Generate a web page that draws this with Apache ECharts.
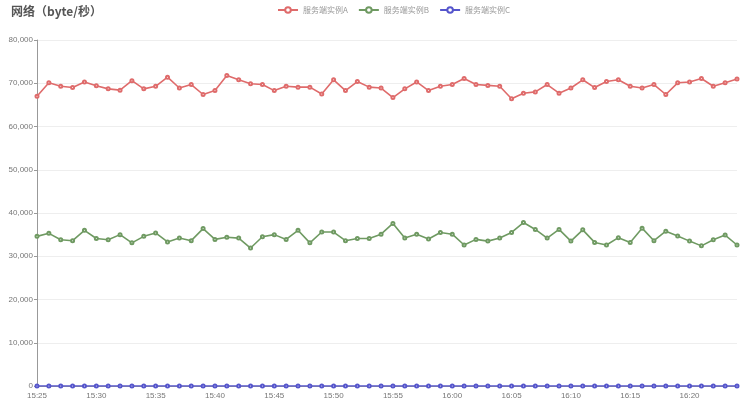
<!DOCTYPE html>
<html>
<head>
<meta charset="utf-8">
<script src="https://cdn.jsdelivr.net/npm/echarts@6/dist/echarts.min.js"></script>
<style>
  html, body { margin: 0; padding: 0; background: #fff; }
  #main { width: 752px; height: 408px; }
</style>
</head>
<body>
<div id="main"></div>
<script>
// 时间轴：15:25 ~ 16:24，每分钟一个点
const times = ['15:25', '15:26', '15:27', '15:28', '15:29', '15:30', '15:31', '15:32', '15:33', '15:34',
  '15:35', '15:36', '15:37', '15:38', '15:39', '15:40', '15:41', '15:42', '15:43', '15:44',
  '15:45', '15:46', '15:47', '15:48', '15:49', '15:50', '15:51', '15:52', '15:53', '15:54',
  '15:55', '15:56', '15:57', '15:58', '15:59', '16:00', '16:01', '16:02', '16:03', '16:04',
  '16:05', '16:06', '16:07', '16:08', '16:09', '16:10', '16:11', '16:12', '16:13', '16:14',
  '16:15', '16:16', '16:17', '16:18', '16:19', '16:20', '16:21', '16:22', '16:23', '16:24']

const seriesA = [67000, 70100, 69300, 69000, 70300, 69400, 68700, 68400, 70600, 68700,
  69300, 71400, 68900, 69700, 67400, 68300, 71800, 70800, 69900, 69700,
  68300, 69300, 69100, 69100, 67500, 70800, 68300, 70400, 69100, 68900,
  66700, 68700, 70300, 68300, 69300, 69700, 71100, 69700, 69500, 69300,
  66400, 67700, 68000, 69700, 67700, 68900, 70800, 69000, 70400, 70800,
  69300, 68900, 69700, 67400, 70100, 70300, 71100, 69300, 70100, 71000]

const seriesB = [34600, 35300, 33800, 33600, 36000, 34100, 33800, 35000, 33100, 34600,
  35400, 33300, 34200, 33600, 36400, 33900, 34400, 34200, 31900, 34500,
  35000, 33900, 36000, 33100, 35600, 35600, 33600, 34100, 34100, 35100,
  37600, 34200, 35100, 34000, 35500, 35100, 32600, 33900, 33500, 34200,
  35500, 37800, 36200, 34200, 36200, 33500, 36100, 33200, 32600, 34300,
  33200, 36500, 33600, 35800, 34700, 33500, 32400, 33800, 34900, 32600]

const seriesC = [0, 0, 0, 0, 0, 0, 0, 0, 0, 0,
  0, 0, 0, 0, 0, 0, 0, 0, 0, 0,
  0, 0, 0, 0, 0, 0, 0, 0, 0, 0,
  0, 0, 0, 0, 0, 0, 0, 0, 0, 0,
  0, 0, 0, 0, 0, 0, 0, 0, 0, 0,
  0, 0, 0, 0, 0, 0, 0, 0, 0, 0]

const names = ['服务端实例A', '服务端实例B', '服务端实例C']
const colors = ['#df6b6b', '#6f9a62', '#5555cc']

const myChart = echarts.init(document.getElementById('main'))

function line(name, data, color) {
  return {
    name: name,
    type: 'line',
    data: data,
    symbol: 'emptyCircle',
    symbolSize: 3,
    itemStyle: { color: color, borderWidth: 1 },
    lineStyle: { color: color, width: 1.6 }
  }
}

const option = {
  animation: false,
  color: colors,
  title: {
    text: '网络（byte/秒）',
    left: 6,
    top: 0,
    textStyle: { fontSize: 12, fontWeight: 'bold', color: '#555', fontFamily: 'Noto Sans CJK SC' }
  },
  legend: {
    data: names,
    top: 1,
    left: 272,
    itemWidth: 20,
    itemHeight: 7,
    itemGap: 10,
    textStyle: { fontSize: 8, color: '#999', fontFamily: 'Noto Sans CJK SC' }
  },
  grid: { left: 37, right: 15, top: 40, bottom: 22 },
  xAxis: {
    type: 'category',
    boundaryGap: false,
    data: times,
    axisLine: { lineStyle: { color: '#999' } },
    axisTick: { show: false },
    axisLabel: { interval: 4, fontSize: 8, color: '#777', margin: 6 }
  },
  yAxis: {
    type: 'value',
    min: 0,
    max: 80000,
    interval: 10000,
    axisLine: { show: true, lineStyle: { color: '#999' } },
    axisTick: { show: true, length: 3, lineStyle: { color: '#999' } },
    axisLabel: {
      fontSize: 8,
      color: '#777',
      margin: 4,
      formatter: v => v.toLocaleString('en-US')
    },
    splitLine: { lineStyle: { color: '#eee' } }
  },
  series: [
    line(names[0], seriesA, colors[0]),
    line(names[1], seriesB, colors[1]),
    line(names[2], seriesC, colors[2])
  ]
}

myChart.setOption(option, true)
</script>
</body>
</html>
